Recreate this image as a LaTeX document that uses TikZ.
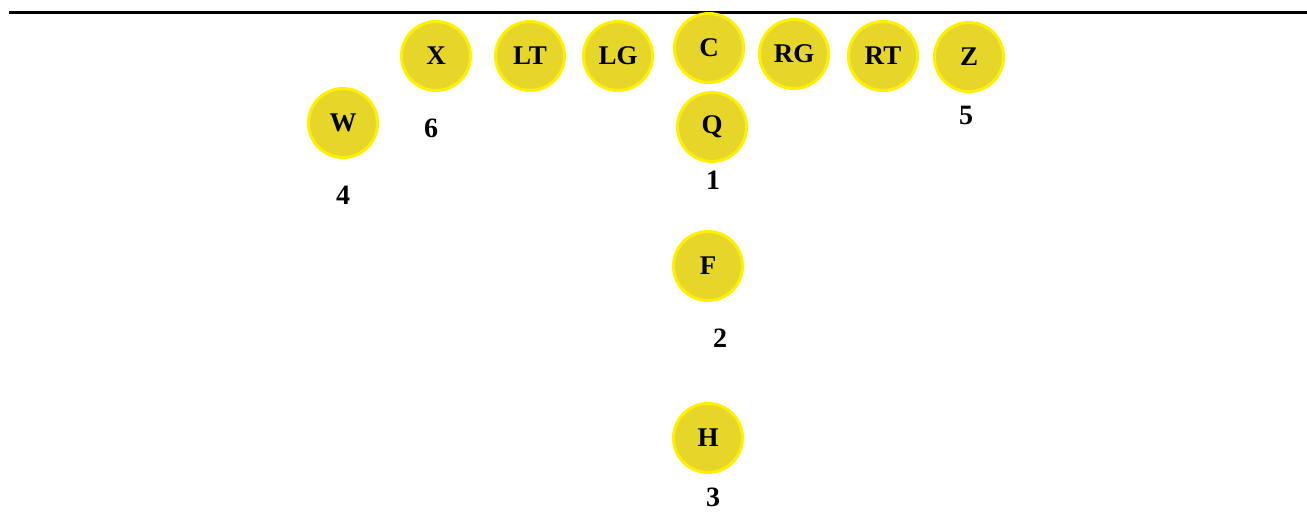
\documentclass[tikz,border=0pt]{standalone}
\usepackage{fontspec}
\setmainfont{Liberation Serif}
\definecolor{playerfill}{RGB}{230,214,42}
\definecolor{playerring}{RGB}{255,240,0}
\begin{document}
\begin{tikzpicture}[x=1pt, y=-1pt,
      player/.style={circle, draw=playerring, fill=playerfill, line width=3pt, minimum size=69pt, inner sep=0pt, font=\fontsize{27}{29}\selectfont\bfseries},
      route/.style={inner sep=0pt, font=\fontsize{28}{30}\selectfont\bfseries}]
      \useasboundingbox (0,0) rectangle (1307,512);
      % Line of scrimmage
      \draw[line width=3pt] (9,12) -- (1307,12);
      % Offensive line
      \node (lt) [player] at (530,56) {LT};
      \node (lg) [player] at (618,56) {LG};
      \node (c) [player] at (709,48) {C};
      \node (rg) [player] at (794,54) {RG};
      \node (rt) [player] at (883,56) {RT};
      % Receivers
      \node (x) [player] at (436,56) {X};
      \node (z) [player] at (969,57) {Z};
      \node (w) [player] at (343,123) {W};
      % Backfield
      \node (q) [player] at (712,127) {Q};
      \node (f) [player] at (708,266) {F};
      \node (h) [player] at (708,438) {H};
      % Numbers
      \node (n1) [route] at (713,180) {1};
      \node (n2) [route] at (720,338) {2};
      \node (n3) [route] at (713,497) {3};
      \node (n4) [route] at (343,195) {4};
      \node (n5) [route] at (966,115) {5};
      \node (n6) [route] at (431,128) {6};
\end{tikzpicture}
\end{document}
